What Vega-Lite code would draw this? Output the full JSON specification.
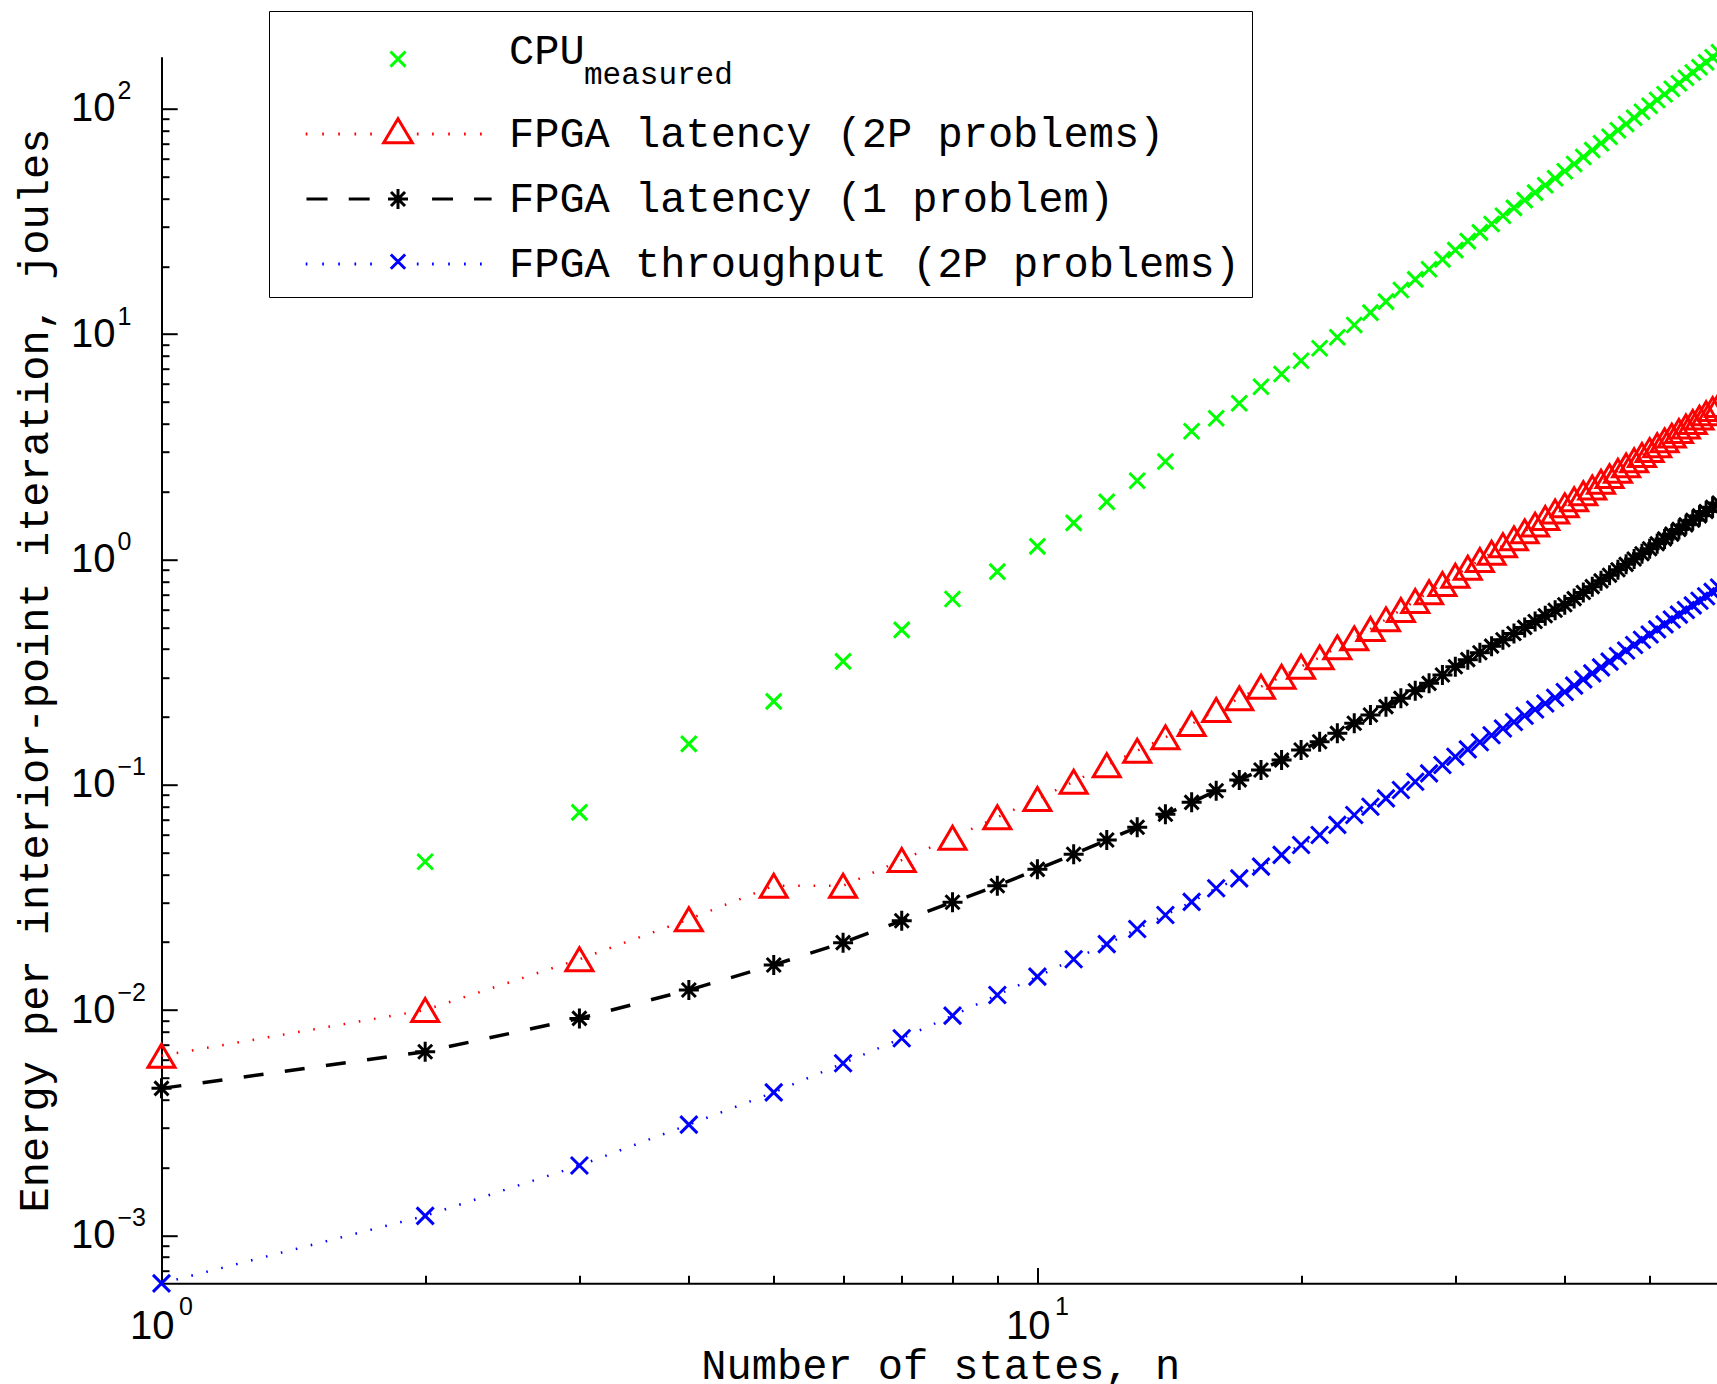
{
  "$schema": "https://vega.github.io/schema/vega-lite/v6.json",
  "width": 1557.5,
  "height": 1226.6,
  "autosize": {"type": "none"},
  "padding": {"left": 161.5, "top": 56.7, "right": 0, "bottom": 100.7},
  "background": "white",
  "config": {"view": {"stroke": null}},
  "data": {"values": [
    {"n":1,"lat2P":0.00627,"lat1":0.00449,"thr2P":0.000612},
    {"n":2,"CPU":0.0455,"lat2P":0.0100,"lat1":0.00653,"thr2P":0.00122},
    {"n":3,"CPU":0.0754,"lat2P":0.0168,"lat1":0.00918,"thr2P":0.00204},
    {"n":4,"CPU":0.1517,"lat2P":0.0253,"lat1":0.01227,"thr2P":0.0031},
    {"n":5,"CPU":0.2344,"lat2P":0.0356,"lat1":0.01585,"thr2P":0.00431},
    {"n":6,"CPU":0.3526,"lat2P":0.0356,"lat1":0.0199,"thr2P":0.0058},
    {"n":7,"CPU":0.4864,"lat2P":0.0463,"lat1":0.0249,"thr2P":0.00749},
    {"n":8,"CPU":0.6673,"lat2P":0.0582,"lat1":0.0301,"thr2P":0.00944},
    {"n":9,"CPU":0.8828,"lat2P":0.0717,"lat1":0.0356,"thr2P":0.01166},
    {"n":10,"CPU":1.142,"lat2P":0.0864,"lat1":0.0421,"thr2P":0.01406},
    {"n":11,"CPU":1.452,"lat2P":0.1031,"lat1":0.0491,"thr2P":0.0168},
    {"n":12,"CPU":1.801,"lat2P":0.122,"lat1":0.0568,"thr2P":0.0196},
    {"n":13,"CPU":2.233,"lat2P":0.1416,"lat1":0.0647,"thr2P":0.0229},
    {"n":14,"CPU":2.72,"lat2P":0.1623,"lat1":0.0739,"thr2P":0.0264},
    {"n":15,"CPU":3.703,"lat2P":0.186,"lat1":0.0835,"thr2P":0.0302},
    {"n":16,"CPU":4.23,"lat2P":0.2146,"lat1":0.094,"thr2P":0.0347},
    {"n":17,"CPU":4.93,"lat2P":0.2417,"lat1":0.105,"thr2P":0.0384},
    {"n":18,"CPU":5.84,"lat2P":0.2723,"lat1":0.1162,"thr2P":0.0433},
    {"n":19,"CPU":6.65,"lat2P":0.3016,"lat1":0.1288,"thr2P":0.0488},
    {"n":20,"CPU":7.62,"lat2P":0.3341,"lat1":0.1426,"thr2P":0.054},
    {"n":21,"CPU":8.65,"lat2P":0.3676,"lat1":0.1552,"thr2P":0.0598},
    {"n":22,"CPU":9.68,"lat2P":0.4072,"lat1":0.169,"thr2P":0.0663},
    {"n":23,"CPU":10.97,"lat2P":0.4464,"lat1":0.1873,"thr2P":0.0734},
    {"n":24,"CPU":12.45,"lat2P":0.491,"lat1":0.2039,"thr2P":0.0798},
    {"n":25,"CPU":13.93,"lat2P":0.542,"lat1":0.222,"thr2P":0.087},
    {"n":26,"CPU":15.7,"lat2P":0.596,"lat1":0.2417,"thr2P":0.0947},
    {"n":27,"CPU":17.49,"lat2P":0.654,"lat1":0.2614,"thr2P":0.1031},
    {"n":28,"CPU":19.41,"lat2P":0.7145,"lat1":0.2818,"thr2P":0.1123},
    {"n":29,"CPU":21.46,"lat2P":0.7775,"lat1":0.307,"thr2P":0.1223},
    {"n":30,"CPU":23.6,"lat2P":0.847,"lat1":0.334,"thr2P":0.1331},
    {"n":31,"CPU":25.87,"lat2P":0.919,"lat1":0.359,"thr2P":0.1435},
    {"n":32,"CPU":28.27,"lat2P":0.994,"lat1":0.385,"thr2P":0.1544},
    {"n":33,"CPU":30.82,"lat2P":1.071,"lat1":0.412,"thr2P":0.1657},
    {"n":34,"CPU":33.5,"lat2P":1.155,"lat1":0.44,"thr2P":0.1775},
    {"n":35,"CPU":36.34,"lat2P":1.24,"lat1":0.469,"thr2P":0.1897},
    {"n":36,"CPU":39.32,"lat2P":1.332,"lat1":0.499,"thr2P":0.2024},
    {"n":37,"CPU":42.46,"lat2P":1.427,"lat1":0.53,"thr2P":0.2156},
    {"n":38,"CPU":45.75,"lat2P":1.527,"lat1":0.562,"thr2P":0.2292},
    {"n":39,"CPU":49.2,"lat2P":1.631,"lat1":0.595,"thr2P":0.2433},
    {"n":40,"CPU":52.81,"lat2P":1.738,"lat1":0.629,"thr2P":0.258},
    {"n":41,"CPU":56.86,"lat2P":1.85,"lat1":0.67,"thr2P":0.2753},
    {"n":42,"CPU":61.12,"lat2P":1.967,"lat1":0.713,"thr2P":0.2933},
    {"n":43,"CPU":65.59,"lat2P":2.087,"lat1":0.757,"thr2P":0.3121},
    {"n":44,"CPU":70.28,"lat2P":2.213,"lat1":0.803,"thr2P":0.3316},
    {"n":45,"CPU":75.18,"lat2P":2.342,"lat1":0.851,"thr2P":0.3518},
    {"n":46,"CPU":80.3,"lat2P":2.476,"lat1":0.9,"thr2P":0.3727},
    {"n":47,"CPU":85.65,"lat2P":2.614,"lat1":0.951,"thr2P":0.3944},
    {"n":48,"CPU":91.24,"lat2P":2.757,"lat1":1.004,"thr2P":0.4169},
    {"n":49,"CPU":97.06,"lat2P":2.905,"lat1":1.059,"thr2P":0.4401},
    {"n":50,"CPU":103.1,"lat2P":3.057,"lat1":1.115,"thr2P":0.4642},
    {"n":51,"CPU":109.4,"lat2P":3.214,"lat1":1.173,"thr2P":0.489},
    {"n":52,"CPU":116.0,"lat2P":3.376,"lat1":1.233,"thr2P":0.5146},
    {"n":53,"CPU":122.8,"lat2P":3.543,"lat1":1.295,"thr2P":0.5411},
    {"n":54,"CPU":129.9,"lat2P":3.714,"lat1":1.359,"thr2P":0.5684},
    {"n":55,"CPU":137.3,"lat2P":3.891,"lat1":1.424,"thr2P":0.5965},
    {"n":56,"CPU":144.9,"lat2P":4.072,"lat1":1.492,"thr2P":0.6255},
    {"n":57,"CPU":152.8,"lat2P":4.259,"lat1":1.561,"thr2P":0.6553},
    {"n":58,"CPU":161.0,"lat2P":4.451,"lat1":1.632,"thr2P":0.686},
    {"n":59,"CPU":169.4,"lat2P":4.647,"lat1":1.705,"thr2P":0.7176},
    {"n":60,"CPU":178.2,"lat2P":4.85,"lat1":1.78,"thr2P":0.7501}
  ]},
  "transform": [{"fold": ["CPU", "lat2P", "lat1", "thr2P"], "as": ["series", "value"]}],
  "layer": [
    {
      "transform": [{"filter": "datum.series == 'lat2P'"}],
      "mark": {"type": "line", "color": "#ff0000", "strokeWidth": 2.5, "strokeDash": [1.6, 13.8]},
      "encoding": {
        "x": {"field": "n", "type": "quantitative", "scale": {"type": "log", "domain": [1, 60], "nice": false},
          "axis": {
            "orient": "bottom", "grid": false,
            "values": [1,2,3,4,5,6,7,8,9,10,20,30,40,50,60],
            "domainColor": "#000000", "domainWidth": 2,
            "tickColor": "#000000", "tickWidth": 2,
            "tickSize": {"condition": {"test": "datum.value == 1 || datum.value == 10", "value": -15.7}, "value": -8},
            "labelExpr": "datum.value == 1 || datum.value == 10 ? '10' : ''",
            "labelFont": "Liberation Sans", "labelFontSize": 40, "labelColor": "#000000",
            "labelAlign": "right", "labelBaseline": "alphabetic", "labelOffset": 12.5, "labelPadding": 70.7,
            "labelFlush": false, "labelOverlap": false, "labelBound": false,
            "title": "Number of states, n", "titleFont": "Liberation Mono", "titleFontSize": 42,
            "titleFontWeight": "normal", "titleColor": "#000000",
            "titleX": 778.75, "titleY": 95.7, "titleAlign": "center", "titleBaseline": "alphabetic"
          }},
        "y": {"field": "value", "type": "quantitative", "scale": {"type": "log", "domain": [0.0006124, 170.3], "nice": false},
          "axis": {
            "orient": "left", "grid": false,
            "values": [0.0007,0.0008,0.0009,0.001,0.002,0.003,0.004,0.005,0.006,0.007,0.008,0.009,0.01,0.02,0.03,0.04,0.05,0.06,0.07,0.08,0.09,0.1,0.2,0.3,0.4,0.5,0.6,0.7,0.8,0.9,1,2,3,4,5,6,7,8,9,10,20,30,40,50,60,70,80,90,100],
            "domainColor": "#000000", "domainWidth": 2,
            "tickColor": "#000000", "tickWidth": 2,
            "tickSize": {"condition": {"test": "abs(log(datum.value)/LN10 - round(log(datum.value)/LN10)) < 0.001", "value": -15.7}, "value": -7.5},
            "labelExpr": "abs(log(datum.value)/LN10 - round(log(datum.value)/LN10)) < 0.001 ? '10' : ''",
            "labelFont": "Liberation Sans", "labelFontSize": 40, "labelColor": "#000000",
            "labelAlign": "right", "labelBaseline": "middle", "labelPadding": 62.2,
            "labelFlush": false, "labelOverlap": false, "labelBound": false,
            "title": "Energy per interior-point iteration, joules", "titleFont": "Liberation Mono", "titleFontSize": 42,
            "titleFontWeight": "normal", "titleColor": "#000000", "titleAngle": 270,
            "titleX": -114.5, "titleY": 613.3, "titleAlign": "center", "titleBaseline": "alphabetic"
          }}
      }
    },
    {
      "transform": [{"filter": "datum.series == 'lat1'"}],
      "mark": {"type": "line", "color": "#000000", "strokeWidth": 3.5, "strokeDash": [20, 21.5]},
      "encoding": {
        "x": {"field": "n", "type": "quantitative", "scale": {"type": "log", "domain": [1, 60], "nice": false},
          "axis": {
            "orient": "bottom", "grid": false, "domain": false, "values": [1, 10],
            "ticks": true, "tickSize": 0, "tickOpacity": 0,
            "labelExpr": "datum.value == 1 ? '0' : '1'",
            "labelFont": "Liberation Sans", "labelFontSize": 25, "labelColor": "#000000",
            "labelAlign": "left", "labelBaseline": "alphabetic", "labelOffset": 17, "labelPadding": 31.7,
            "labelFlush": false, "labelOverlap": false, "labelBound": false, "title": null
          }},
        "y": {"field": "value", "type": "quantitative", "scale": {"type": "log", "domain": [0.0006124, 170.3], "nice": false},
          "axis": {
            "orient": "left", "grid": false, "domain": false, "values": [0.001, 0.01, 0.1, 1, 10, 100],
            "ticks": true, "tickSize": 0, "tickOpacity": 0,
            "labelExpr": "format(round(log(datum.value)/LN10), 'd')",
            "labelFont": "Liberation Sans", "labelFontSize": 25, "labelColor": "#000000",
            "labelAlign": "left", "labelBaseline": "middle", "labelOffset": -18, "labelPadding": 44.5,
            "labelFlush": false, "labelOverlap": false, "labelBound": false, "title": null
          }}
      }
    },
    {
      "transform": [{"filter": "datum.series == 'thr2P'"}],
      "mark": {"type": "line", "color": "#0000ff", "strokeWidth": 2.5, "strokeDash": [1.6, 13.8]},
      "encoding": {
        "x": {"field": "n", "type": "quantitative", "scale": {"type": "log", "domain": [1, 60], "nice": false}, "axis": null},
        "y": {"field": "value", "type": "quantitative", "scale": {"type": "log", "domain": [0.0006124, 170.3], "nice": false}, "axis": null}
      }
    },
    {
      "transform": [{"filter": "datum.series == 'CPU'"}],
      "mark": {"type": "point", "shape": "M-1,-1L1,1M-1,1L1,-1", "size": 240, "filled": false, "color": "#00ff00", "opacity": 1},
      "encoding": {
        "x": {"field": "n", "type": "quantitative", "scale": {"type": "log", "domain": [1, 60], "nice": false}, "axis": null},
        "y": {"field": "value", "type": "quantitative", "scale": {"type": "log", "domain": [0.0006124, 170.3], "nice": false}, "axis": null},
        "strokeWidth": {"field": "series", "type": "nominal", "scale": {"domain": ["CPU"], "range": [3, 3]},
          "legend": {
            "orient": "none", "direction": "vertical", "legendX": 123.5, "legendY": -26.7, "title": null,
            "padding": 0, "symbolSize": 676, "symbolOffset": 92,
            "symbolType": "M-0.58,0.04L0.58,1.2M-0.58,1.2L0.58,0.04",
            "symbolStrokeColor": "#00ff00", "symbolFillColor": "transparent", "symbolOpacity": 1,
            "labelOffset": 90, "labelFont": "Liberation Mono", "labelFontSize": 42, "labelColor": "#000000"
          }}
      }
    },
    {
      "transform": [{"filter": "datum.series == 'thr2P'"}],
      "mark": {"type": "point", "shape": "M-1,-1L1,1M-1,1L1,-1", "size": 289, "filled": false, "strokeWidth": 3, "color": "#0000ff", "opacity": 1},
      "encoding": {
        "x": {"field": "n", "type": "quantitative", "scale": {"type": "log", "domain": [1, 60], "nice": false}, "axis": null},
        "y": {"field": "value", "type": "quantitative", "scale": {"type": "log", "domain": [0.0006124, 170.3], "nice": false}, "axis": null}
      }
    },
    {
      "transform": [{"filter": "datum.series == 'lat2P'"}],
      "mark": {"type": "point", "shape": "M0,-0.85L1,0.85L-1,0.85Z", "size": 729, "filled": false, "strokeWidth": 3, "color": "#ff0000", "opacity": 1},
      "encoding": {
        "x": {"field": "n", "type": "quantitative", "scale": {"type": "log", "domain": [1, 60], "nice": false}, "axis": null},
        "y": {"field": "value", "type": "quantitative", "scale": {"type": "log", "domain": [0.0006124, 170.3], "nice": false}, "axis": null},
        "opacity": {"datum": "measured", "type": "nominal", "scale": {"domain": ["measured"], "range": [1, 1]},
          "legend": {
            "orient": "none", "direction": "vertical", "legendX": 391.5, "legendY": 2.8, "title": null,
            "padding": 0, "symbolSize": 0, "symbolStrokeWidth": 0, "symbolOpacity": 0, "labelOffset": 0,
            "labelFont": "Liberation Mono", "labelFontSize": 31, "labelColor": "#000000"
          }}
      }
    },
    {
      "transform": [{"filter": "datum.series == 'lat1'"}],
      "mark": {"type": "point", "shape": "M-1,0L1,0M0,-1L0,1M-0.7,-0.7L0.7,0.7M-0.7,0.7L0.7,-0.7", "size": 400, "filled": false, "strokeWidth": 3, "color": "#000000", "opacity": 1},
      "encoding": {
        "x": {"field": "n", "type": "quantitative", "scale": {"type": "log", "domain": [1, 60], "nice": false}, "axis": null},
        "y": {"field": "value", "type": "quantitative", "scale": {"type": "log", "domain": [0.0006124, 170.3], "nice": false}, "axis": null}
      }
    },
    {
      "transform": [{"filter": "false"}],
      "mark": {"type": "point", "filled": false, "strokeWidth": 3, "opacity": 1},
      "encoding": {
        "x": {"field": "n", "type": "quantitative", "scale": {"type": "log", "domain": [1, 60], "nice": false}, "axis": null},
        "y": {"field": "value", "type": "quantitative", "scale": {"type": "log", "domain": [0.0006124, 170.3], "nice": false}, "axis": null},
        "color": {"field": "series", "type": "nominal",
          "scale": {"domain": ["CPU", "lat2P", "lat1", "thr2P"], "range": ["#00ff00", "#ff0000", "#000000", "#0000ff"]},
          "legend": {
            "orient": "none", "direction": "vertical", "legendX": 107.5, "legendY": -45.7,
            "values": ["lat2P", "lat1", "thr2P"],
            "title": " ", "titleFontSize": 10, "titlePadding": 80,
            "padding": 12, "strokeColor": "#000000", "rowPadding": 23,
            "symbolSize": 676, "symbolStrokeWidth": 3, "symbolOffset": 96, "symbolOpacity": 1,
            "labelOffset": 90, "labelFont": "Liberation Mono", "labelFontSize": 42, "labelColor": "#000000", "labelLimit": 2000,
            "labelExpr": "datum.value == 'lat2P' ? 'FPGA latency (2P problems)' : datum.value == 'lat1' ? 'FPGA latency (1 problem)' : 'FPGA throughput (2P problems)'"
          }},
        "shape": {"field": "series", "type": "nominal",
          "scale": {"domain": ["CPU", "lat2P", "lat1", "thr2P"], "range": [
            "M-0.58,-0.58L0.58,0.58M-0.58,0.58L0.58,-0.58",
            "M-7.1,0L-6.97,0M-5.83,0L-5.7,0M-4.6,0L-4.47,0M-3.35,0L-3.22,0M-2.14,0L-2.01,0M1.45,0L1.58,0M2.62,0L2.75,0M3.86,0L3.99,0M5.08,0L5.21,0M6.31,0L6.44,0M0,-1.17L1.1,0.67L-1.1,0.67Z",
            "M-7.04,0L-5.42,0M-3.79,0L-2.18,0M2.62,0L4.23,0M5.85,0L7.2,0M-0.77,0L0.77,0M0,-0.77L0,0.77M-0.54,-0.54L0.54,0.54M-0.54,0.54L0.54,-0.54",
            "M-7.1,0L-6.97,0M-5.83,0L-5.7,0M-4.6,0L-4.47,0M-3.35,0L-3.22,0M-2.14,0L-2.01,0M1.45,0L1.58,0M2.62,0L2.75,0M3.86,0L3.99,0M5.08,0L5.21,0M6.31,0L6.44,0M-0.55,-0.73L0.55,0.37M-0.55,0.37L0.55,-0.73"
          ]},
          "legend": {
            "orient": "none", "direction": "vertical", "legendX": 107.5, "legendY": -45.7,
            "values": ["lat2P", "lat1", "thr2P"],
            "title": " ", "titleFontSize": 10, "titlePadding": 80,
            "padding": 12, "strokeColor": "#000000", "rowPadding": 23,
            "symbolSize": 676, "symbolStrokeWidth": 3, "symbolOffset": 96, "symbolOpacity": 1,
            "labelOffset": 90, "labelFont": "Liberation Mono", "labelFontSize": 42, "labelColor": "#000000", "labelLimit": 2000,
            "labelExpr": "datum.value == 'lat2P' ? 'FPGA latency (2P problems)' : datum.value == 'lat1' ? 'FPGA latency (1 problem)' : 'FPGA throughput (2P problems)'"
          }}
      }
    }
  ],
  "resolve": {"axis": {"x": "independent", "y": "independent"}}
}
